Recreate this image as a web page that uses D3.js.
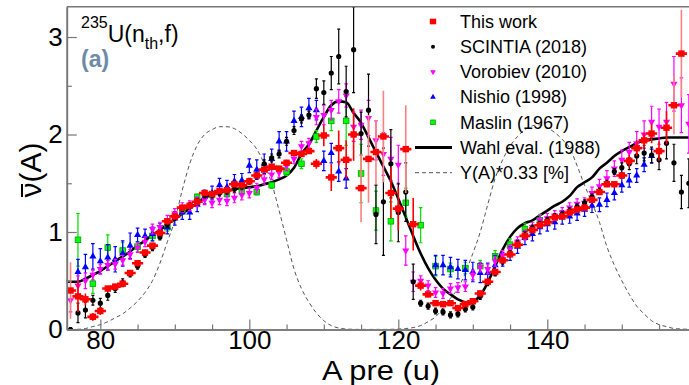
<!DOCTYPE html>
<html>
<head>
<meta charset="utf-8">
<script src="https://cdn.jsdelivr.net/npm/d3@7"></script>
<style>
  body { margin: 0; background: #fff; }
  svg { display: block; font-family: "Liberation Sans", Arial, Helvetica, sans-serif; }
</style>
</head>
<body>
<div id="chart"></div>
<script>
// nu-bar(A) for 235U(nth,f)

// This work (A = 76..158)
const redStart = 76;
const redV = [0.40,0.34,0.31,0.13,0.19,0.42,0.44,0.47,0.58,0.68,0.79,0.86,0.99,1.11,1.16,1.25,1.27,1.31,1.40,1.39,
  1.42,1.43,1.49,1.48,1.52,1.58,1.64,1.67,1.65,1.71,1.81,1.80,1.83,1.70,1.99,1.56,1.86,1.74,2.00,1.45,
  1.75,1.82,1.98,1.40,1.24,1.85,1.08,0.45,0.36,0.27,0.26,0.27,0.22,0.26,0.29,0.37,0.49,0.59,0.71,0.77,
  0.87,0.96,1.02,1.07,1.10,1.15,1.16,1.20,1.23,1.25,1.33,1.41,1.49,1.49,1.58,1.73,1.86,1.94,2.01,1.83,
  2.07,2.30,2.83];
const redE = [0.29,0.16,0.06,0.04,0.04,0.03,0.03,0.03,0.03,0.03,0.03,0.03,0.03,0.03,0.03,0.03,0.03,0.03,0.03,0.03,
  0.03,0.03,0.03,0.03,0.03,0.03,0.03,0.03,0.03,0.03,0.03,0.03,0.03,0.05,0.11,0.14,0.18,0.20,0.27,0.35,
  0.45,0.33,0.47,0.26,0.22,0.45,0.27,0.05,0.03,0.03,0.03,0.03,0.03,0.03,0.03,0.03,0.03,0.03,0.03,0.03,
  0.03,0.03,0.03,0.03,0.03,0.03,0.03,0.03,0.03,0.03,0.03,0.03,0.03,0.03,0.03,0.06,0.08,0.08,0.10,0.10,
  0.17,0.30,0.45];

// SCINTIA (2018) (A = 76..159)
const blackStart = 76;
const blackV = [0.00,0.17,0.20,0.30,0.27,0.35,0.42,0.48,0.57,0.65,0.77,0.84,0.95,1.08,1.15,1.24,1.27,1.31,1.38,1.38,
  1.40,1.42,1.44,1.47,1.52,1.58,1.70,1.76,1.80,1.93,2.04,2.16,2.20,2.47,2.43,2.63,2.80,2.44,2.87,2.01,
  2.25,1.18,1.31,1.70,1.20,1.41,0.49,0.27,0.24,0.19,0.18,0.15,0.16,0.21,0.23,0.34,0.48,0.58,0.70,0.78,
  0.88,0.97,1.04,1.08,1.12,1.16,1.18,1.22,1.26,1.30,1.36,1.42,1.50,1.62,1.66,1.70,1.78,1.81,1.79,1.74,
  1.91,1.71,1.41,1.50];
const blackE = [0.02,0.10,0.08,0.05,0.05,0.05,0.04,0.04,0.03,0.03,0.03,0.03,0.03,0.03,0.03,0.03,0.03,0.03,0.03,0.03,
  0.03,0.03,0.03,0.03,0.03,0.03,0.04,0.04,0.04,0.04,0.04,0.04,0.04,0.10,0.12,0.17,0.28,0.26,0.44,0.22,
  0.37,0.30,0.55,0.35,0.30,0.30,0.18,0.03,0.03,0.03,0.03,0.03,0.03,0.03,0.03,0.03,0.03,0.03,0.03,0.03,
  0.03,0.03,0.03,0.03,0.03,0.03,0.03,0.03,0.03,0.03,0.03,0.03,0.03,0.03,0.05,0.06,0.08,0.08,0.08,0.10,
  0.16,0.19,0.17,0.25];

// Vorobiev (2010) (A = 76..159)
const magStart = 76;
const magV = [0.30,0.45,0.50,0.56,0.62,0.66,0.67,0.71,0.77,0.84,0.90,1.03,1.05,1.12,1.19,1.25,1.27,1.31,1.33,1.30,
  1.33,1.32,1.35,1.38,1.40,1.45,1.54,1.59,1.61,1.68,1.75,1.88,1.91,2.18,2.20,2.25,2.34,2.40,2.08,2.10,
  2.17,1.94,1.80,1.75,1.69,0.81,0.49,0.50,0.45,0.38,0.37,0.42,0.43,0.44,0.56,0.64,0.62,0.70,0.76,0.82,
  0.90,0.97,1.05,1.12,1.14,1.17,1.20,1.25,1.29,1.30,1.40,1.47,1.55,1.65,1.74,1.82,1.91,2.00,2.13,2.08,
  2.13,2.52,2.30,2.11];
const magE = [0.12,0.10,0.08,0.05,0.05,0.05,0.05,0.05,0.05,0.05,0.05,0.05,0.05,0.05,0.05,0.05,0.05,0.05,0.05,0.05,
  0.05,0.05,0.05,0.05,0.05,0.05,0.05,0.05,0.05,0.05,0.05,0.05,0.05,0.08,0.10,0.10,0.12,0.12,0.15,0.15,
  0.18,0.20,0.22,0.22,0.20,0.15,0.10,0.05,0.05,0.05,0.05,0.05,0.05,0.05,0.05,0.05,0.05,0.05,0.05,0.05,
  0.05,0.05,0.05,0.05,0.05,0.05,0.05,0.05,0.05,0.05,0.06,0.07,0.08,0.08,0.10,0.10,0.12,0.14,0.16,0.18,
  0.20,0.28,0.28,0.30];

// Nishio (1998), two ranges
const blueA = [77,78,79,80,81,82,83,84,85,86,87,88,89,90,91,92,93,94,95,96,97,98,99,100,101,102,103,104,105,106,107,108,109,110,111,112,113,
  125,126,127,128,129,130,131,132,133,134,135,136,137,138,139,140,141,142,143,144,145,146,147,148,149,150,151,152,153,154];
const blueV = [0.59,0.64,0.75,0.70,0.74,0.72,0.78,0.86,0.97,0.96,0.98,1.02,1.05,1.14,1.20,1.20,1.28,1.36,1.40,1.48,
  1.46,1.52,1.53,1.68,1.64,1.70,1.75,1.93,1.93,2.14,2.18,2.27,2.25,1.73,1.81,1.62,1.55,
  0.66,0.66,0.64,0.62,0.61,0.59,0.58,0.58,0.66,0.72,0.78,0.85,0.94,0.98,1.05,1.08,1.10,1.15,1.16,1.19,
  1.23,1.27,1.28,1.33,1.40,1.48,1.53,1.58,1.69,1.78];
const blueE = [0.13,0.13,0.13,0.13,0.13,0.13,0.13,0.13,0.07,0.07,0.07,0.07,0.07,0.07,0.07,0.07,0.07,0.07,0.07,0.07,
  0.07,0.07,0.07,0.07,0.10,0.10,0.10,0.10,0.10,0.10,0.10,0.10,0.10,0.10,0.10,0.10,0.10,
  0.10,0.10,0.10,0.10,0.10,0.10,0.10,0.10,0.10,0.07,0.07,0.07,0.07,0.07,0.07,0.07,0.07,0.07,0.07,0.07,
  0.07,0.07,0.07,0.07,0.07,0.07,0.07,0.07,0.07,0.07];

// Maslin (1967), odd A only
const greenA = [77,79,81,83,85,87,89,91,93,95,97,99,101,103,105,107,109,111,113,115,117,119,121,123,125,127,129,131,133,135,137,139];
const greenV = [0.92,0.47,0.84,0.81,0.85,0.96,1.05,1.22,1.36,1.38,1.39,1.42,1.41,1.48,1.62,1.70,1.98,2.14,2.14,1.60,
  1.22,1.11,1.30,1.07,0.65,0.62,0.63,0.65,0.75,0.87,1.03,1.12];
const greenE = [0.27,0.10,0.13,0.08,0.05,0.05,0.04,0.04,0.03,0.03,0.03,0.03,0.03,0.03,0.04,0.05,0.06,0.10,0.25,0.30,
  0.20,0.20,0.15,0.18,0.10,0.06,0.06,0.06,0.06,0.06,0.06,0.06];

// Wahl eval. (1988) and Y(A)*0.33, A = 75..159
const curveStart = 75;
const wahlV = [0.49,0.49,0.49,0.52,0.56,0.60,0.65,0.70,0.75,0.80,0.86,0.91,0.97,1.02,1.08,1.13,1.19,1.24,1.30,1.35,
  1.38,1.41,1.42,1.44,1.45,1.46,1.47,1.49,1.51,1.54,1.58,1.66,1.80,1.90,2.04,2.18,2.30,2.34,2.33,2.22,
  2.12,1.97,1.82,1.67,1.52,1.34,1.15,0.96,0.78,0.63,0.51,0.42,0.36,0.31,0.28,0.29,0.35,0.48,0.65,0.82,
  0.95,1.04,1.09,1.12,1.17,1.22,1.27,1.31,1.37,1.46,1.51,1.56,1.65,1.71,1.78,1.83,1.87,1.91,1.94,1.95,
  1.96,1.97,1.97,1.97,1.97];
const yieldV = [0.0,0.0,0.002,0.01,0.03,0.05,0.08,0.12,0.16,0.22,0.29,0.38,0.50,0.68,0.90,1.12,1.43,1.70,1.89,2.00,
  2.05,2.08,2.08,2.06,2.01,1.94,1.85,1.70,1.50,1.22,0.92,0.62,0.42,0.28,0.17,0.09,0.04,0.015,0.005,0.002,
  0.001,0.001,0.001,0.001,0.002,0.005,0.01,0.02,0.04,0.08,0.13,0.22,0.32,0.42,0.58,0.78,1.00,1.28,1.55,1.74,
  1.88,1.98,2.05,2.09,2.10,2.07,2.02,1.95,1.86,1.68,1.48,1.30,1.10,0.85,0.66,0.50,0.36,0.24,0.16,0.09,
  0.05,0.03,0.01,0.005,0.002];

const legendLabels = ["This work", "SCINTIA (2018)", "Vorobiev (2010)", "Nishio (1998)", "Maslin (1967)", "Wahl eval. (1988)", "Y(A)*0.33 [%]"];
const xTicks = [80, 100, 120, 140];
const yTicks = [0, 1, 2, 3];

const width = 689;
const height = 385;
const mLeft = 66.8, mRight = 696.3, mTop = 6.8, mBottom = 329.5;

const svg = d3.select("#chart").append("svg")
  .attr("width", width)
  .attr("height", height)
  .attr("viewBox", [0, 0, width, height]);

const x = d3.scaleLinear().domain([75.5, 160]).range([mLeft, mRight]);
const y = d3.scaleLinear().domain([0, 3.31]).range([mBottom, mTop]);

const seq = (start, vals, errs) => vals.map((v, i) => ({ a: start + i, v, e: errs ? errs[i] : 0 }));
const pairs = (as, vals, errs) => as.map((a, i) => ({ a, v: vals[i], e: errs[i] }));

const redPts = seq(redStart, redV, redE);
const blackPts = seq(blackStart, blackV, blackE);
const magPts = seq(magStart, magV, magE);
const bluePts = pairs(blueA, blueV, blueE);
const greenPts = pairs(greenA, greenV, greenE);
const wahlPts = seq(curveStart, wahlV);
const yieldPts = seq(curveStart, yieldV);

svg.append("defs").append("clipPath").attr("id", "plot")
  .append("rect").attr("x", mLeft).attr("y", mTop).attr("width", mRight - mLeft).attr("height", mBottom - mTop);

const plot = svg.append("g").attr("clip-path", "url(#plot)");

// yield curve
plot.append("path")
  .datum(yieldPts)
  .attr("fill", "none")
  .attr("stroke", "#555")
  .attr("stroke-width", 1)
  .attr("stroke-dasharray", "4,3")
  .attr("d", d3.line().x(d => x(d.a)).y(d => y(d.v)).curve(d3.curveMonotoneX));

// Wahl evaluation
plot.append("path")
  .datum(wahlPts)
  .attr("fill", "none")
  .attr("stroke", "#000")
  .attr("stroke-width", 2.6)
  .attr("stroke-linejoin", "round")
  .attr("d", d3.line().x(d => x(d.a)).y(d => y(d.v)).curve(d3.curveMonotoneX));

function errorBars(g, pts, color, cap) {
  g.selectAll(null).data(pts).join("line")
    .attr("x1", d => x(d.a)).attr("x2", d => x(d.a))
    .attr("y1", d => y(d.v - d.e)).attr("y2", d => y(d.v + d.e))
    .attr("stroke", color).attr("stroke-width", 1.2);
  if (cap) {
    g.selectAll(null).data(pts.flatMap(d => [d.v - d.e, d.v + d.e].map(t => ({ a: d.a, t })))).join("line")
      .attr("x1", d => x(d.a) - cap).attr("x2", d => x(d.a) + cap)
      .attr("y1", d => y(d.t)).attr("y2", d => y(d.t))
      .attr("stroke", color).attr("stroke-width", 1.2);
  }
}

const tri = d3.symbol().type(d3.symbolTriangle).size(22);

// Maslin
const gGreen = plot.append("g");
errorBars(gGreen, greenPts, "#00dd00", 1.8);
gGreen.selectAll("rect").data(greenPts).join("rect")
  .attr("x", d => x(d.a) - 2.8).attr("y", d => y(d.v) - 2.8)
  .attr("width", 5.6).attr("height", 5.6)
  .attr("fill", "#00ff00").attr("stroke", "#00a000").attr("stroke-width", 0.8);

// Nishio
const gBlue = plot.append("g");
errorBars(gBlue, bluePts, "#0000ff", 1.8);
gBlue.selectAll("path").data(bluePts).join("path")
  .attr("transform", d => `translate(${x(d.a)},${y(d.v)})`)
  .attr("d", tri).attr("fill", "#0000ff");

// Vorobiev
const gMag = plot.append("g");
errorBars(gMag, magPts, "#ff00ff", 1.8);
gMag.selectAll("path").data(magPts).join("path")
  .attr("transform", d => `translate(${x(d.a)},${y(d.v)}) rotate(180)`)
  .attr("d", tri).attr("fill", "#ff00ff");

// SCINTIA
const gBlack = plot.append("g");
errorBars(gBlack, blackPts, "#000", 1.5);
gBlack.selectAll("circle").data(blackPts).join("circle")
  .attr("cx", d => x(d.a)).attr("cy", d => y(d.v)).attr("r", 2.6)
  .attr("fill", "#000");

// This work
const gRed = plot.append("g");
gRed.selectAll("line.ey").data(redPts).join("line").attr("class", "ey")
  .attr("x1", d => x(d.a)).attr("x2", d => x(d.a))
  .attr("y1", d => y(d.v - d.e)).attr("y2", d => y(d.v + d.e))
  .attr("stroke", d => d.e >= 0.28 ? "#ff8080" : "#ff0000")
  .attr("stroke-width", 1.6);
gRed.selectAll("line.ex").data(redPts).join("line").attr("class", "ex")
  .attr("x1", d => x(d.a - 0.75)).attr("x2", d => x(d.a + 0.75))
  .attr("y1", d => y(d.v)).attr("y2", d => y(d.v))
  .attr("stroke", "#ff0000").attr("stroke-width", 2.6);
gRed.selectAll("rect").data(redPts).join("rect")
  .attr("x", d => x(d.a) - 3.2).attr("y", d => y(d.v) - 3.2)
  .attr("width", 6.4).attr("height", 6.4)
  .attr("fill", "#ff0000");

// axes
const axisColor = "#777";
const xAxis = svg.append("g").attr("transform", `translate(0,${mBottom})`)
  .call(d3.axisBottom(x).tickValues(xTicks).tickFormat(d3.format("d")).tickSizeInner(-10).tickSizeOuter(0).tickPadding(1));
const xMinor = svg.append("g").attr("transform", `translate(0,${mBottom})`)
  .call(d3.axisBottom(x).tickValues(d3.range(80, 160, 5).filter(v => v % 20 !== 0)).tickSizeInner(-5).tickSizeOuter(0).tickFormat(""));
const yAxis = svg.append("g").attr("transform", `translate(${mLeft},0)`)
  .call(d3.axisLeft(y).tickValues(yTicks).tickFormat(d3.format("d")).tickSizeInner(-10).tickSizeOuter(0).tickPadding(4));
const yMinor = svg.append("g").attr("transform", `translate(${mLeft},0)`)
  .call(d3.axisLeft(y).tickValues([0.5, 1.5, 2.5]).tickSizeInner(-5).tickSizeOuter(0).tickFormat(""));

[xAxis, xMinor, yAxis, yMinor].forEach(g => {
  g.select(".domain").attr("stroke", axisColor).attr("stroke-width", 1.6);
  g.selectAll(".tick line").attr("stroke", axisColor).attr("stroke-width", 1.2);
  g.selectAll("text").attr("fill", "#000").attr("font-size", 26)
    .attr("font-family", "'Liberation Sans', Arial, sans-serif");
});

// top frame
svg.append("line")
  .attr("x1", mLeft).attr("x2", mRight).attr("y1", mTop).attr("y2", mTop)
  .attr("stroke", axisColor).attr("stroke-width", 1.6);

// axis titles
svg.append("text")
  .attr("x", 381).attr("y", 380)
  .attr("text-anchor", "middle")
  .attr("font-size", 28)
  .attr("textLength", 118)
  .attr("lengthAdjust", "spacingAndGlyphs")
  .text("A pre (u)");

const yTitle = svg.append("g").attr("transform", "translate(41,170) rotate(-90)");
yTitle.append("text")
  .attr("x", 0).attr("y", 0)
  .attr("text-anchor", "middle")
  .attr("font-size", 30)
  .text("ν(A)");
yTitle.append("line")
  .attr("x1", -27).attr("x2", -14).attr("y1", -19).attr("y2", -19)
  .attr("stroke", "#000").attr("stroke-width", 2);

// reaction label
const react = svg.append("text").attr("x", 81).attr("y", 42).attr("font-size", 23);
react.append("tspan").attr("font-size", 16).attr("dy", -14).text("235");
react.append("tspan").attr("dy", 14).text("U(n");
react.append("tspan").attr("font-size", 16).attr("dy", 7).text("th");
react.append("tspan").attr("dy", -7).text(",f)");

svg.append("text")
  .attr("x", 81).attr("y", 67)
  .attr("font-size", 23).attr("font-weight", "bold")
  .attr("fill", "#6e8aa6")
  .text("(a)");

// legend
const legend = svg.append("g");
const rowY = i => 21.5 + i * 25.2;
const lx = 433;
legend.selectAll("text").data(legendLabels).join("text")
  .attr("x", 460).attr("y", (d, i) => rowY(i))
  .attr("dy", "0.35em")
  .attr("font-size", 18)
  .text(d => d);

legend.append("rect").attr("x", lx - 3.2).attr("y", rowY(0) - 2.8).attr("width", 6.4).attr("height", 5.6).attr("fill", "#ff0000");
legend.append("circle").attr("cx", lx).attr("cy", rowY(1)).attr("r", 2).attr("fill", "#000");
legend.append("path").attr("transform", `translate(${lx},${rowY(2)}) rotate(180)`)
  .attr("d", d3.symbol().type(d3.symbolTriangle).size(14)).attr("fill", "#ff00ff");
legend.append("path").attr("transform", `translate(${lx},${rowY(3)})`)
  .attr("d", d3.symbol().type(d3.symbolTriangle).size(14)).attr("fill", "#0000ff");
legend.append("rect").attr("x", lx - 2.3).attr("y", rowY(4) - 2.3).attr("width", 4.6).attr("height", 4.6)
  .attr("fill", "#00ff00").attr("stroke", "#00a000").attr("stroke-width", 0.8);
legend.append("line").attr("x1", 415).attr("x2", 452).attr("y1", rowY(5)).attr("y2", rowY(5))
  .attr("stroke", "#000").attr("stroke-width", 3);
legend.append("line").attr("x1", 415).attr("x2", 452).attr("y1", rowY(6)).attr("y2", rowY(6))
  .attr("stroke", "#555").attr("stroke-width", 1).attr("stroke-dasharray", "4,3");
</script>
</body>
</html>
